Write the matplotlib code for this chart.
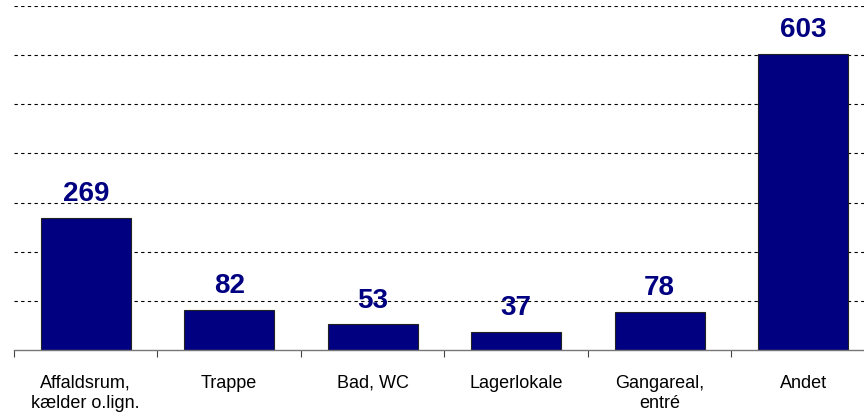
import matplotlib.pyplot as plt
import numpy as np

plt.rcParams['font.family'] = ['Liberation Sans', 'DejaVu Sans']

# data
categories = ["Affaldsrum,\nkælder o.lign.", "Trappe", "Bad, WC", "Lagerlokale",
              "Gangareal,\nentré", "Andet"]
values = [269, 82, 53, 37, 78, 603]

navy = "#000080"

fig = plt.figure(figsize=(8.64, 4.14), dpi=100)
ax = fig.add_axes([14/864, 1 - 351/414, 861/864, 344/414])

x = np.arange(len(categories))
ax.bar(x, values, width=0.63, color=navy, edgecolor="#222222", linewidth=0.8, zorder=3)

for xi, v in zip(x, values):
    ax.annotate(str(v), (xi, v), xytext=(0, 12.5), textcoords="offset points",
                ha="center", va="baseline", fontsize=20, fontweight="bold", color=navy)

ax.set_xlim(-0.5, len(categories) - 0.5)
ax.set_ylim(0, 700)
ax.set_yticks(np.arange(100, 701, 100))
ax.yaxis.grid(True, color="black", linestyle=(0, (3, 3)), linewidth=0.8, zorder=0)
ax.tick_params(axis="y", left=False, labelleft=False)

# category boundaries as tick marks, labels centred under bars
ax.set_xticks(np.arange(-0.5, len(categories), 1.0))
ax.set_xticklabels([])
ax.set_xticks(x, minor=True)
ax.set_xticklabels(categories, minor=True, fontsize=13, linespacing=1.25)
ax.tick_params(axis="x", which="major", length=5, width=0.8, color="#444444", direction="out")
ax.tick_params(axis="x", which="minor", length=0, pad=17)

for side in ["left", "right", "top"]:
    ax.spines[side].set_visible(False)
ax.spines["bottom"].set_color("#777777")
ax.spines["bottom"].set_linewidth(1.0)
ax.spines["bottom"].set_zorder(4)

fig.savefig("out.png", dpi=100)
